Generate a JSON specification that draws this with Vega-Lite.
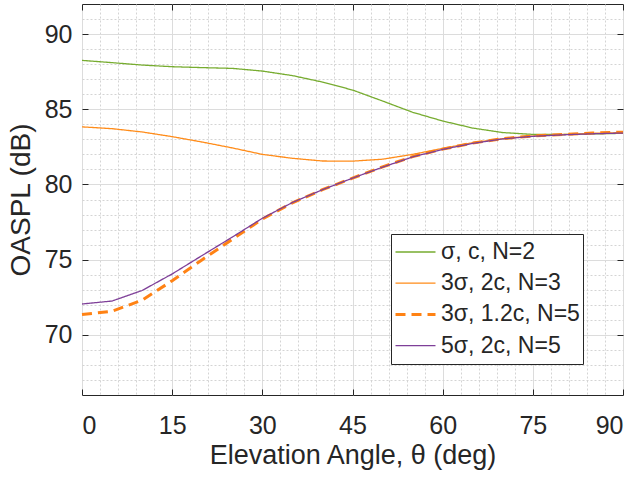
{
  "$schema": "https://vega.github.io/schema/vega-lite/v6.json",
  "width": 541,
  "height": 391,
  "autosize": {"type": "none"},
  "padding": {"left": 82, "top": 4, "right": 16, "bottom": 82},
  "background": "white",
  "config": {
    "view": {"stroke": "#262626", "strokeWidth": 1},
    "font": "Liberation Sans",
    "axis": {"domain": false, "labelColor": "#262626", "titleColor": "#262626", "titleFontWeight": "normal", "tickColor": "#262626"}
  },
  "data": {"values": [
    {"a": 0, "v": 88.25, "s": "σ, c, N=2"},
    {"a": 5, "v": 88.1, "s": "σ, c, N=2"},
    {"a": 10, "v": 87.94, "s": "σ, c, N=2"},
    {"a": 15, "v": 87.83, "s": "σ, c, N=2"},
    {"a": 20, "v": 87.77, "s": "σ, c, N=2"},
    {"a": 25, "v": 87.72, "s": "σ, c, N=2"},
    {"a": 30, "v": 87.54, "s": "σ, c, N=2"},
    {"a": 35, "v": 87.24, "s": "σ, c, N=2"},
    {"a": 40, "v": 86.81, "s": "σ, c, N=2"},
    {"a": 45, "v": 86.28, "s": "σ, c, N=2"},
    {"a": 50, "v": 85.55, "s": "σ, c, N=2"},
    {"a": 55, "v": 84.8, "s": "σ, c, N=2"},
    {"a": 60, "v": 84.22, "s": "σ, c, N=2"},
    {"a": 65, "v": 83.75, "s": "σ, c, N=2"},
    {"a": 70, "v": 83.45, "s": "σ, c, N=2"},
    {"a": 75, "v": 83.33, "s": "σ, c, N=2"},
    {"a": 80, "v": 83.32, "s": "σ, c, N=2"},
    {"a": 85, "v": 83.36, "s": "σ, c, N=2"},
    {"a": 90, "v": 83.4, "s": "σ, c, N=2"},
    {"a": 0, "v": 83.83, "s": "3σ, 2c, N=3"},
    {"a": 5, "v": 83.71, "s": "3σ, 2c, N=3"},
    {"a": 10, "v": 83.49, "s": "3σ, 2c, N=3"},
    {"a": 15, "v": 83.18, "s": "3σ, 2c, N=3"},
    {"a": 20, "v": 82.82, "s": "3σ, 2c, N=3"},
    {"a": 25, "v": 82.43, "s": "3σ, 2c, N=3"},
    {"a": 30, "v": 82.0, "s": "3σ, 2c, N=3"},
    {"a": 35, "v": 81.74, "s": "3σ, 2c, N=3"},
    {"a": 40, "v": 81.56, "s": "3σ, 2c, N=3"},
    {"a": 45, "v": 81.55, "s": "3σ, 2c, N=3"},
    {"a": 50, "v": 81.68, "s": "3σ, 2c, N=3"},
    {"a": 55, "v": 82.0, "s": "3σ, 2c, N=3"},
    {"a": 60, "v": 82.4, "s": "3σ, 2c, N=3"},
    {"a": 65, "v": 82.78, "s": "3σ, 2c, N=3"},
    {"a": 70, "v": 83.05, "s": "3σ, 2c, N=3"},
    {"a": 75, "v": 83.22, "s": "3σ, 2c, N=3"},
    {"a": 80, "v": 83.32, "s": "3σ, 2c, N=3"},
    {"a": 85, "v": 83.4, "s": "3σ, 2c, N=3"},
    {"a": 90, "v": 83.45, "s": "3σ, 2c, N=3"},
    {"a": 0, "v": 71.35, "s": "3σ, 1.2c, N=5"},
    {"a": 5, "v": 71.57, "s": "3σ, 1.2c, N=5"},
    {"a": 10, "v": 72.3, "s": "3σ, 1.2c, N=5"},
    {"a": 15, "v": 73.6, "s": "3σ, 1.2c, N=5"},
    {"a": 20, "v": 75.0, "s": "3σ, 1.2c, N=5"},
    {"a": 25, "v": 76.35, "s": "3σ, 1.2c, N=5"},
    {"a": 30, "v": 77.7, "s": "3σ, 1.2c, N=5"},
    {"a": 35, "v": 78.78, "s": "3σ, 1.2c, N=5"},
    {"a": 40, "v": 79.65, "s": "3σ, 1.2c, N=5"},
    {"a": 45, "v": 80.42, "s": "3σ, 1.2c, N=5"},
    {"a": 50, "v": 81.17, "s": "3σ, 1.2c, N=5"},
    {"a": 55, "v": 81.85, "s": "3σ, 1.2c, N=5"},
    {"a": 60, "v": 82.35, "s": "3σ, 1.2c, N=5"},
    {"a": 65, "v": 82.75, "s": "3σ, 1.2c, N=5"},
    {"a": 70, "v": 83.05, "s": "3σ, 1.2c, N=5"},
    {"a": 75, "v": 83.22, "s": "3σ, 1.2c, N=5"},
    {"a": 80, "v": 83.33, "s": "3σ, 1.2c, N=5"},
    {"a": 85, "v": 83.42, "s": "3σ, 1.2c, N=5"},
    {"a": 90, "v": 83.48, "s": "3σ, 1.2c, N=5"},
    {"a": 0, "v": 72.05, "s": "5σ, 2c, N=5"},
    {"a": 5, "v": 72.25, "s": "5σ, 2c, N=5"},
    {"a": 10, "v": 72.95, "s": "5σ, 2c, N=5"},
    {"a": 15, "v": 74.05, "s": "5σ, 2c, N=5"},
    {"a": 20, "v": 75.28, "s": "5σ, 2c, N=5"},
    {"a": 25, "v": 76.5, "s": "5σ, 2c, N=5"},
    {"a": 30, "v": 77.75, "s": "5σ, 2c, N=5"},
    {"a": 35, "v": 78.8, "s": "5σ, 2c, N=5"},
    {"a": 40, "v": 79.65, "s": "5σ, 2c, N=5"},
    {"a": 45, "v": 80.42, "s": "5σ, 2c, N=5"},
    {"a": 50, "v": 81.15, "s": "5σ, 2c, N=5"},
    {"a": 55, "v": 81.83, "s": "5σ, 2c, N=5"},
    {"a": 60, "v": 82.33, "s": "5σ, 2c, N=5"},
    {"a": 65, "v": 82.73, "s": "5σ, 2c, N=5"},
    {"a": 70, "v": 83.03, "s": "5σ, 2c, N=5"},
    {"a": 75, "v": 83.2, "s": "5σ, 2c, N=5"},
    {"a": 80, "v": 83.3, "s": "5σ, 2c, N=5"},
    {"a": 85, "v": 83.37, "s": "5σ, 2c, N=5"},
    {"a": 90, "v": 83.42, "s": "5σ, 2c, N=5"}
  ]},
  "layer": [
    {
      "mark": {"type": "line", "opacity": 0},
      "encoding": {
        "x": {"field": "a", "type": "quantitative", "scale": {"domain": [0, 90], "nice": false},
          "axis": {"orient": "bottom", "values": [3,6,9,12,18,21,24,27,33,36,39,42,48,51,54,57,63,66,69,72,78,81,84,87], "grid": true, "gridDash": [2, 2], "gridColor": "#d4d4d4", "labels": false, "ticks": false, "title": null}},
        "y": {"field": "v", "type": "quantitative", "scale": {"domain": [66, 92], "nice": false, "zero": false},
          "axis": {"orient": "left", "values": [67,68,69,71,72,73,74,76,77,78,79,81,82,83,84,86,87,88,89,91], "grid": true, "gridDash": [2, 2], "gridColor": "#d4d4d4", "labels": false, "ticks": false, "title": null}},
        "detail": {"field": "s"}
      }
    },
    {
      "mark": {"type": "line", "opacity": 0},
      "encoding": {
        "x": {"field": "a", "type": "quantitative",
          "axis": {"orient": "top", "values": [0,15,30,45,60,75,90], "grid": false, "labels": false, "tickSize": -6, "title": null}},
        "y": {"field": "v", "type": "quantitative",
          "axis": {"orient": "right", "values": [70,75,80,85,90], "grid": false, "labels": false, "tickSize": -6, "title": null}},
        "detail": {"field": "s"}
      }
    },
    {
      "mark": {"type": "line"},
      "encoding": {
        "x": {"field": "a", "type": "quantitative",
          "axis": {"orient": "bottom", "values": [0,15,30,45,60,75,90], "grid": true, "gridColor": "#dcdcdc", "tickSize": -6, "labelFontSize": 25, "labelPadding": 24, "title": "Elevation Angle, θ (deg)", "titleFontSize": 27, "titlePadding": 4}},
        "y": {"field": "v", "type": "quantitative",
          "axis": {"orient": "left", "values": [70,75,80,85,90], "grid": true, "gridColor": "#dcdcdc", "tickSize": -6, "labelFontSize": 25, "labelPadding": 16, "title": "OASPL (dB)", "titleFontSize": 28, "titlePadding": 9}},
        "color": {"field": "s", "type": "nominal",
          "scale": {"domain": ["σ, c, N=2", "3σ, 2c, N=3", "3σ, 1.2c, N=5", "5σ, 2c, N=5"], "range": ["#77AC30", "#FF8C1A", "#FF8214", "#7E3F98"]},
          "legend": {"orient": "none", "legendX": 309, "legendY": 230, "title": null, "symbolType": "stroke", "symbolSize": 1600, "labelFontSize": 23, "labelColor": "#262626", "padding": 3, "fillColor": "white", "strokeColor": "#262626", "clipHeight": 30, "rowPadding": 1.2, "labelOffset": 4}},
        "strokeDash": {"field": "s", "type": "nominal",
          "scale": {"domain": ["σ, c, N=2", "3σ, 2c, N=3", "3σ, 1.2c, N=5", "5σ, 2c, N=5"], "range": [[1, 0], [1, 0], [10, 6], [1, 0]]}},
        "strokeWidth": {"field": "s", "type": "nominal",
          "scale": {"type": "ordinal", "domain": ["σ, c, N=2", "3σ, 2c, N=3", "3σ, 1.2c, N=5", "5σ, 2c, N=5"], "range": [1.3, 1.3, 3, 1.3]}}
      }
    }
  ],
  "resolve": {"axis": {"x": "independent", "y": "independent"}}
}
